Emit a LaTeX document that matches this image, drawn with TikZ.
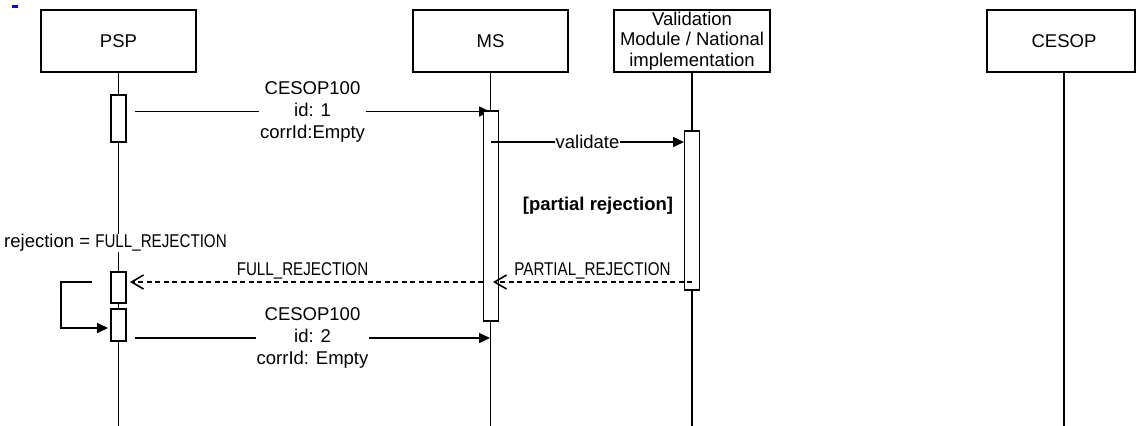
\documentclass[tikz,border=0pt]{standalone}
\usepackage{fontspec}
\usepackage{graphicx}
\setmainfont{Liberation Sans}
\usetikzlibrary{arrows.meta}
\tikzset{
  base/.style={line width=1.6pt, draw=black},
  actor/.style={base, fill=white, minimum width=155pt, minimum height=62pt, inner sep=0pt, align=center},
  lifeline/.style={base},
  actbox/.style={base, fill=white, minimum width=15pt, inner sep=0pt},
  msg/.style={base, -{Triangle[length=11pt,width=10pt]}},
  reply/.style={base, dash pattern=on 5pt off 3.5pt, -{Straight Barb[length=12pt,width=14pt]}},
  lbl/.style={fill=white, inner sep=1pt, align=center},
}
\newcommand{\cmp}[1]{\scalebox{0.82}[1]{#1}}
\begin{document}
\begin{tikzpicture}[x=1pt,y=-1pt, font=\fontsize{18.5}{22}\selectfont]
\useasboundingbox (0,0) rectangle (1136,426);
\fill[white] (0,0) rectangle (1136,426);
\clip (0,0) rectangle (1136,426);

% blue mark
\fill[blue] (12,5) rectangle (18,8);

% actors
\node[actor] (psp) at (118.5,41) {PSP};
\node[actor] (ms) at (490.5,41) {MS};
\node[actor, minimum width=156pt, font=\fontsize{18.5}{20.5}\selectfont] (vm) at (692,41) {Validation\\Module / National\\implementation};
\draw[base, fill=white] (987,10) rectangle (1135,72);
\node (cesop) at (1064,41) {CESOP};

% lifeline ends
\coordinate (pspend) at (118.5,426);
\coordinate (msend) at (490.5,426);
\coordinate (vmend) at (692,426);
\coordinate (cesoptop) at (1064,72);
\coordinate (cesopend) at (1064,426);

\draw[lifeline] (psp.south) -- (pspend);
\draw[lifeline] (ms.south) -- (msend);
\draw[lifeline] (vm.south) -- (vmend);
\draw[lifeline] (cesoptop) -- (cesopend);

% first message (drawn before activations)
\coordinate (m1s) at (135,111.5);
\coordinate (m1e) at (490,111.5);
\draw[msg] (m1s) -- node[lbl] {CESOP100\\id: 1\\corrId:Empty} (m1e);

% activations
\node[actbox, minimum height=47pt] (pa1) at (118.5,118.5) {};
\node[actbox, minimum height=31pt] (pa2) at (118.5,287.5) {};
\node[actbox, minimum height=32pt] (pa3) at (118.5,325) {};
\node[actbox, minimum height=210pt] (msa) at (491,216) {};
\node[actbox, minimum height=159pt] (vma) at (692,210.5) {};

% validate
\coordinate (vs) at (491,142);
\coordinate (ve) at (684,142);
\draw[msg] (vs) -- node[lbl] {validate} (ve);

% guard
\node[font=\fontsize{18.5}{22}\selectfont\bfseries] (guard) at (598,206) {[partial rejection]};

% partial rejection reply
\coordinate (prs) at (692,282);
\coordinate (pre) at (493,282);
\draw[reply] (prs) -- node[midway, anchor=base, yshift=7pt, inner sep=0pt] {\cmp{PARTIAL\_REJECTION}} (pre);

% full rejection reply
\coordinate (frs) at (483,282);
\coordinate (fre) at (130,282);
\draw[reply] (frs) -- node[midway, anchor=base, yshift=7pt, xshift=-4pt, inner sep=0pt] {\cmp{FULL\_REJECTION}} (fre);

% rejection note
\node[lbl, inner sep=0pt] (note) at (115.5,243) {rejection = \cmp{FULL\_REJECTION}};

% self loop
\coordinate (ls) at (92,282);
\coordinate (le) at (108,328);
\draw[msg] (ls) -- (61,282) -- (61,328) -- (le);

% second message
\coordinate (m2s) at (135,338);
\coordinate (m2e) at (490,338);
\draw[msg] (m2s) -- node[lbl] {CESOP100\\id: 2\\corrId: Empty} (m2e);
\end{tikzpicture}
\end{document}
